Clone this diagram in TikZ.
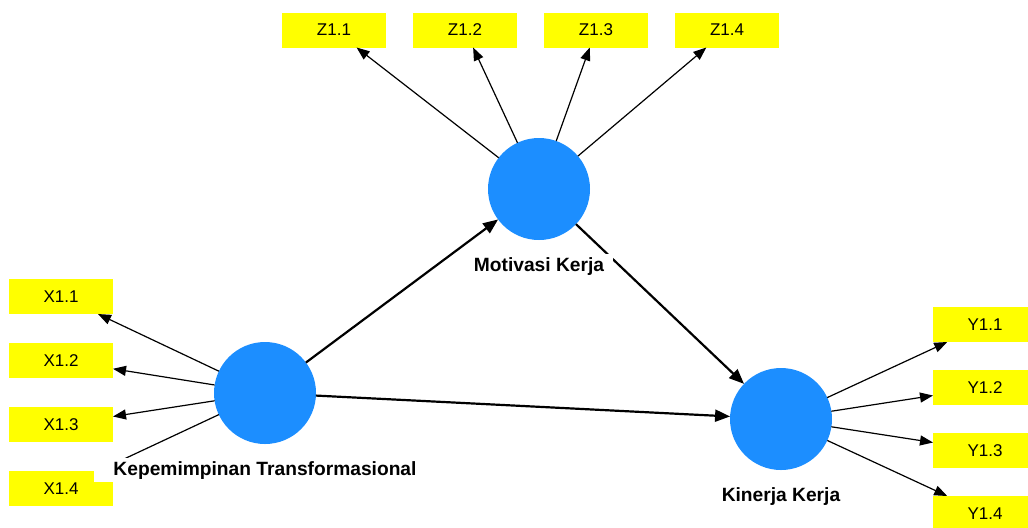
\documentclass[tikz,border=0pt]{standalone}
\usepackage{fontspec}
\setmainfont{Liberation Sans}
\usetikzlibrary{arrows.meta, positioning}
\definecolor{latentblue}{RGB}{28,142,255}
\definecolor{itemyellow}{RGB}{255,255,0}

\begin{document}
\begin{tikzpicture}[x=0.5pt, y=-0.5pt,
        latent/.style={circle, fill=latentblue, minimum size=51pt, inner sep=0pt, outer sep=0pt},
        indicator/.style={rectangle, fill=itemyellow, minimum width=52pt, minimum height=17.5pt, inner sep=0pt, outer sep=0pt, font=\fontsize{8.5}{10}\selectfont},
        latentname/.style={fill=white, inner xsep=4.5pt, inner ysep=1.5pt, font=\fontsize{9.6}{11}\selectfont\bfseries},
        loading/.style={-{Triangle[length=6.5pt, width=5pt]}, line width=0.6pt},
        structural/.style={-{Triangle[length=7.5pt, width=6pt]}, line width=1.1pt}]
        \useasboundingbox (0,0) rectangle (1028,527);

        % Latent variables
        \node[latent] (mot) at (539,189) {};
        \node[latent] (kt) at (265,393) {};
        \node[latent] (kk) at (781,419) {};

        % Indicators of Motivasi Kerja
        \node[indicator] (z11) at (334,30) {Z1.1};
        \node[indicator, right=13.5pt of z11] (z12) {Z1.2};
        \node[indicator, right=13.5pt of z12] (z13) {Z1.3};
        \node[indicator, right=13.5pt of z13] (z14) {Z1.4};

        % Indicators of Kepemimpinan Transformasional
        \node[indicator] (x11) at (61,296.5) {X1.1};
        \node[indicator, below=14.5pt of x11] (x12) {X1.2};
        \node[indicator, below=14.5pt of x12] (x13) {X1.3};
        \node[indicator, below=14.5pt of x13] (x14) {X1.4};

        % Indicators of Kinerja Kerja
        \node[indicator] (y11) at (985,324.5) {Y1.1};
        \node[indicator, below=14pt of y11] (y12) {Y1.2};
        \node[indicator, below=14pt of y12] (y13) {Y1.3};
        \node[indicator, below=14pt of y13] (y14) {Y1.4};

        % Outer model
        \draw[loading] (mot) -- (z11);
        \draw[loading] (mot) -- (z12);
        \draw[loading] (mot) -- (z13);
        \draw[loading] (mot) -- (z14);
        \draw[loading] (kt) -- (x11);
        \draw[loading] (kt) -- (x12);
        \draw[loading] (kt) -- (x13);
        \draw[loading] (kt) -- (x14);
        \draw[loading] (kk) -- (y11);
        \draw[loading] (kk) -- (y12);
        \draw[loading] (kk) -- (y13);
        \draw[loading] (kk) -- (y14);

        % Inner model
        \draw[structural] (kt) -- (mot);
        \draw[structural] (kt) -- (kk);
        \draw[structural] (mot) -- (kk);

        % Names
        \node[latentname, below=7pt of mot] (motname) {Motivasi Kerja};
        \node[latentname, inner xsep=9.5pt, below=7pt of kt] (ktname) {Kepemimpinan Transformasional};
        \node[latentname, below=7pt of kk] (kkname) {Kinerja Kerja};
    \end{tikzpicture}
\end{document}
